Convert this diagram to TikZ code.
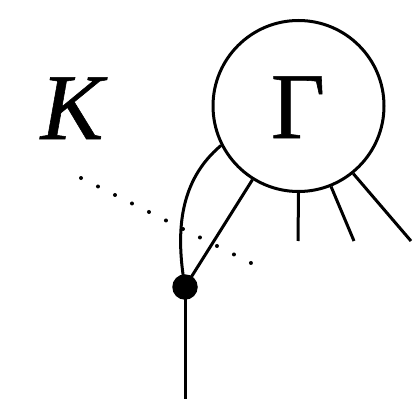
\documentclass[tikz,border=0pt]{standalone}
\usepackage{fontspec}
\setmainfont{Liberation Serif}
\newfontfamily\heavyserif[FakeBold=0.6]{Liberation Serif}
\begin{document}
\begin{tikzpicture}[x=1pt,y=-1pt,
  edge/.style={line width=3pt},
  blob/.style={circle,fill=black,inner sep=0pt,minimum size=25.5pt},
  bigcirc/.style={circle,draw,line width=3pt,inner sep=0pt,minimum size=171pt},
  lbl/.style={inner sep=0pt,anchor=base,font=\heavyserif\fontsize{94}{94}\selectfont}]
\useasboundingbox (0,0) rectangle (420,420);
\node[bigcirc] (G) at (298.5,106) {};
\node[lbl] (Gl) at (298,138) {Γ};
\node[lbl] (K) at (72,139) {\itshape K};
\node[blob] (d) at (185,287) {};
\coordinate (b) at (185,399);
\coordinate (v1) at (298,241);
\coordinate (v2) at (354,241);
\coordinate (v3) at (411,241);
\coordinate (k1) at (81,178);
\coordinate (k2) at (251,263);
\draw[edge] (d.center) -- (b);
\draw[edge] (d.center) -- (G.238.2);
\draw[edge] (d.center) .. controls (175,230) and (180,180) .. (G.207.9);
\draw[edge] (G.270) -- (v1);
\draw[edge] (G.292.5) -- (v2);
\draw[edge] (G.309.6) -- (v3);
\draw[line width=4pt,line cap=round,dash pattern=on 0pt off 19pt] (k1) -- (k2);
\end{tikzpicture}
\end{document}
